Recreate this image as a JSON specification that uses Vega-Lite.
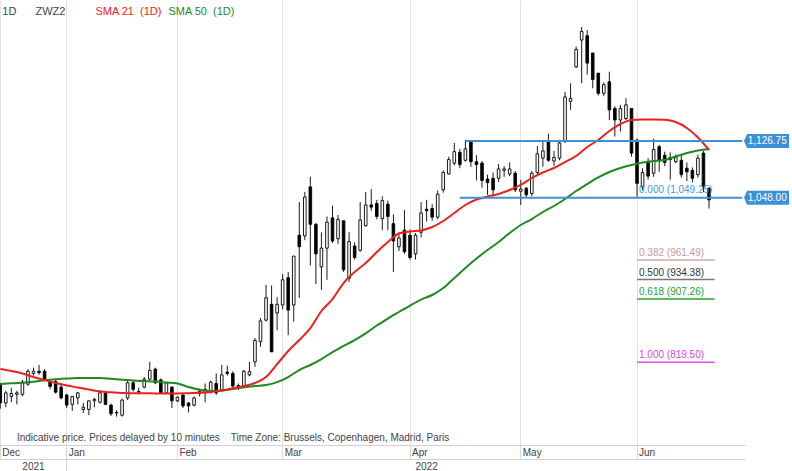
{
  "width": 745,
  "height": 445,
  "autosize": {"type": "none"},
  "padding": {"left": 0, "top": 0, "right": 47, "bottom": 26},
  "background": "#ffffff",
  "config": {"view": {"stroke": null}, "font": "Liberation Sans"},
  "datasets": {
    "ohlc": [
      {"date":"2021-12-15","o":788,"h":791,"l":755,"c":763,"sma21":810.1,"sma50":789.3},
      {"date":"2021-12-16","o":763,"h":780,"l":757,"c":777},
      {"date":"2021-12-17","o":772,"h":784,"l":764,"c":776,"sma21":807.3,"sma50":790.2},
      {"date":"2021-12-20","o":775,"h":780,"l":761,"c":777},
      {"date":"2021-12-21","o":775,"h":795,"l":772,"c":792,"sma21":803.8,"sma50":791.2},
      {"date":"2021-12-22","o":789,"h":810,"l":787,"c":807},
      {"date":"2021-12-23","o":804,"h":812,"l":801,"c":807,"sma21":799,"sma50":792.6},
      {"date":"2021-12-27","o":807,"h":816,"l":802,"c":805},
      {"date":"2021-12-28","o":807,"h":810,"l":793,"c":795,"sma21":794.8,"sma50":794.4},
      {"date":"2021-12-29","o":792,"h":795,"l":782,"c":786},
      {"date":"2021-12-30","o":793,"h":795,"l":776,"c":778,"sma21":790.7,"sma50":795.8},
      {"date":"2021-12-31","o":785,"h":788,"l":768,"c":770},
      {"date":"2022-01-03","o":774,"h":776,"l":756,"c":760,"sma21":787.2,"sma50":796.9},
      {"date":"2022-01-04","o":761,"h":773,"l":752,"c":772},
      {"date":"2022-01-05","o":770,"h":778,"l":761,"c":777,"sma21":784.4,"sma50":797.6},
      {"date":"2022-01-06","o":754,"h":763,"l":749,"c":757},
      {"date":"2022-01-07","o":754,"h":766,"l":746,"c":766,"sma21":781.6,"sma50":797.6},
      {"date":"2022-01-10","o":766,"h":770,"l":757,"c":768},
      {"date":"2022-01-11","o":764,"h":781,"l":762,"c":777,"sma21":778.9,"sma50":797.6},
      {"date":"2022-01-12","o":777,"h":779,"l":760,"c":761},
      {"date":"2022-01-13","o":760,"h":762,"l":745,"c":748,"sma21":777.7,"sma50":796.5},
      {"date":"2022-01-14","o":750,"h":753,"l":744,"c":749},
      {"date":"2022-01-18","o":746,"h":769,"l":744,"c":767,"sma21":776.8,"sma50":795.1},
      {"date":"2022-01-19","o":770,"h":795,"l":767,"c":791},
      {"date":"2022-01-20","o":791,"h":794,"l":779,"c":782,"sma21":776.5,"sma50":794.1},
      {"date":"2022-01-21","o":779,"h":784,"l":775,"c":778},
      {"date":"2022-01-24","o":785,"h":799,"l":783,"c":796,"sma21":776.4,"sma50":793.4},
      {"date":"2022-01-25","o":796,"h":820,"l":794,"c":808},
      {"date":"2022-01-26","o":810,"h":812,"l":789,"c":791,"sma21":776.2,"sma50":792.7},
      {"date":"2022-01-27","o":795,"h":797,"l":776,"c":777},
      {"date":"2022-01-28","o":777,"h":792,"l":776,"c":791,"sma21":776.1,"sma50":791.4},
      {"date":"2022-01-31","o":785,"h":786,"l":756,"c":766},
      {"date":"2022-02-01","o":766,"h":772,"l":764,"c":771,"sma21":776.2,"sma50":790},
      {"date":"2022-02-02","o":774,"h":775,"l":756,"c":759},
      {"date":"2022-02-03","o":763,"h":764,"l":750,"c":759,"sma21":776.6,"sma50":785.1},
      {"date":"2022-02-04","o":760,"h":772,"l":758,"c":770},
      {"date":"2022-02-07","o":776,"h":783,"l":772,"c":779,"sma21":777,"sma50":781.4},
      {"date":"2022-02-08","o":777,"h":790,"l":764,"c":782},
      {"date":"2022-02-09","o":778,"h":794,"l":776,"c":792,"sma21":778.3,"sma50":779.6},
      {"date":"2022-02-10","o":790,"h":804,"l":774,"c":777},
      {"date":"2022-02-11","o":781,"h":816,"l":779,"c":802,"sma21":780.2,"sma50":780.2},
      {"date":"2022-02-14","o":806,"h":815,"l":801,"c":804},
      {"date":"2022-02-15","o":804,"h":807,"l":784,"c":786.5,"sma21":783.3,"sma50":782.3},
      {"date":"2022-02-16","o":787,"h":790,"l":781,"c":785},
      {"date":"2022-02-17","o":786.5,"h":809,"l":784,"c":807,"sma21":786.5,"sma50":784.7},
      {"date":"2022-02-18","o":802,"h":820,"l":800,"c":806.5},
      {"date":"2022-02-22","o":820,"h":853,"l":813,"c":850,"sma21":790.7,"sma50":786.5},
      {"date":"2022-02-23","o":848,"h":881,"l":841,"c":877},
      {"date":"2022-02-24","o":878,"h":927,"l":876,"c":909,"sma21":799,"sma50":787.9},
      {"date":"2022-02-25","o":900,"h":926,"l":834,"c":834},
      {"date":"2022-02-28","o":888,"h":910,"l":864,"c":900,"sma21":817,"sma50":792},
      {"date":"2022-03-01","o":899,"h":942,"l":893,"c":934},
      {"date":"2022-03-02","o":937,"h":945,"l":857,"c":892,"sma21":835.1,"sma50":799},
      {"date":"2022-03-03","o":899,"h":967,"l":876,"c":967},
      {"date":"2022-03-04","o":996,"h":1042,"l":909,"c":980,"sma21":850.4,"sma50":808.7},
      {"date":"2022-03-07","o":995,"h":1056,"l":989,"c":1049},
      {"date":"2022-03-08","o":1063,"h":1077,"l":954,"c":1011,"sma21":867,"sma50":815.7},
      {"date":"2022-03-09","o":1011,"h":1013,"l":928,"c":970},
      {"date":"2022-03-10","o":952,"h":1000,"l":920,"c":978,"sma21":890.7,"sma50":824},
      {"date":"2022-03-11","o":978,"h":1022,"l":934,"c":1014},
      {"date":"2022-03-14","o":1020,"h":1037,"l":985,"c":988,"sma21":907.3,"sma50":833.7},
      {"date":"2022-03-15","o":991,"h":1024,"l":984,"c":1018},
      {"date":"2022-03-16","o":1016,"h":1016,"l":945,"c":948,"sma21":929.5,"sma50":842.1},
      {"date":"2022-03-17","o":936,"h":1000,"l":931,"c":987},
      {"date":"2022-03-18","o":981,"h":986,"l":962,"c":965,"sma21":944.8,"sma50":850.4},
      {"date":"2022-03-21","o":975,"h":1042,"l":973,"c":1017},
      {"date":"2022-03-22","o":1009,"h":1056,"l":1008,"c":1038,"sma21":957.3,"sma50":859.7},
      {"date":"2022-03-23","o":1038,"h":1060,"l":1030,"c":1035},
      {"date":"2022-03-24","o":1040,"h":1045,"l":1018,"c":1022,"sma21":972.6,"sma50":870.5},
      {"date":"2022-03-25","o":1019,"h":1050,"l":1003,"c":1044},
      {"date":"2022-03-28","o":1039,"h":1044,"l":1003,"c":1022,"sma21":986.5,"sma50":880.2},
      {"date":"2022-03-29","o":1012,"h":1025,"l":945,"c":988},
      {"date":"2022-03-30","o":980,"h":1000,"l":974,"c":992,"sma21":998.3,"sma50":889.3},
      {"date":"2022-03-31","o":1003,"h":1031,"l":970,"c":973},
      {"date":"2022-04-01","o":996,"h":1004,"l":962,"c":965,"sma21":1001.1,"sma50":898.3},
      {"date":"2022-04-04","o":970,"h":999,"l":962,"c":996},
      {"date":"2022-04-05","o":1000,"h":1042,"l":993,"c":1027,"sma21":1002.5,"sma50":906.6},
      {"date":"2022-04-06","o":1032,"h":1045,"l":1015,"c":1030},
      {"date":"2022-04-07","o":1033,"h":1039,"l":1016,"c":1021,"sma21":1007.3,"sma50":912.9},
      {"date":"2022-04-08","o":1021,"h":1058,"l":1018,"c":1053},
      {"date":"2022-04-11","o":1059,"h":1086,"l":1055,"c":1083,"sma21":1015.7,"sma50":922.6},
      {"date":"2022-04-12","o":1081,"h":1105,"l":1080,"c":1101},
      {"date":"2022-04-13","o":1096,"h":1124,"l":1093,"c":1112,"sma21":1026.8,"sma50":936.5},
      {"date":"2022-04-14","o":1111,"h":1116,"l":1089,"c":1094},
      {"date":"2022-04-18","o":1100,"h":1128.75,"l":1098,"c":1116,"sma21":1037.9,"sma50":950.4},
      {"date":"2022-04-19","o":1126,"h":1128,"l":1091,"c":1098},
      {"date":"2022-04-20","o":1098,"h":1107,"l":1072,"c":1094,"sma21":1045.5,"sma50":963.6},
      {"date":"2022-04-21","o":1096,"h":1099,"l":1062,"c":1072},
      {"date":"2022-04-22","o":1074,"h":1080,"l":1052,"c":1069,"sma21":1049.7,"sma50":975.4},
      {"date":"2022-04-25","o":1075,"h":1083,"l":1050,"c":1059},
      {"date":"2022-04-26","o":1075,"h":1095,"l":1070,"c":1088,"sma21":1053.2,"sma50":986.5},
      {"date":"2022-04-27","o":1086,"h":1092,"l":1077,"c":1088},
      {"date":"2022-04-28","o":1081,"h":1097,"l":1078,"c":1088,"sma21":1058.7,"sma50":999},
      {"date":"2022-04-29","o":1082,"h":1085,"l":1056,"c":1059},
      {"date":"2022-05-02","o":1057,"h":1073,"l":1038,"c":1060,"sma21":1065.7,"sma50":1010.1},
      {"date":"2022-05-03","o":1061,"h":1063,"l":1048,"c":1052},
      {"date":"2022-05-04","o":1054,"h":1085,"l":1050,"c":1082,"sma21":1075.4,"sma50":1018.4},
      {"date":"2022-05-05","o":1083,"h":1120,"l":1081,"c":1109},
      {"date":"2022-05-06","o":1103,"h":1126,"l":1091,"c":1113,"sma21":1083,"sma50":1028.2},
      {"date":"2022-05-09","o":1126,"h":1137,"l":1098,"c":1100},
      {"date":"2022-05-10","o":1099,"h":1113,"l":1092,"c":1104,"sma21":1089.3,"sma50":1036.5},
      {"date":"2022-05-11","o":1103,"h":1127,"l":1100,"c":1124},
      {"date":"2022-05-12","o":1126,"h":1195,"l":1124,"c":1188,"sma21":1097.6,"sma50":1046.2},
      {"date":"2022-05-13","o":1182,"h":1207,"l":1170,"c":1186},
      {"date":"2022-05-16","o":1230,"h":1258,"l":1228,"c":1254,"sma21":1105.9,"sma50":1057.3},
      {"date":"2022-05-17","o":1267,"h":1285,"l":1207,"c":1279},
      {"date":"2022-05-18","o":1273,"h":1281,"l":1219,"c":1235,"sma21":1118.4,"sma50":1067},
      {"date":"2022-05-19","o":1249,"h":1249,"l":1200,"c":1212},
      {"date":"2022-05-20","o":1221,"h":1221,"l":1190,"c":1193,"sma21":1128.2,"sma50":1076.1},
      {"date":"2022-05-23","o":1193,"h":1208,"l":1189,"c":1205},
      {"date":"2022-05-24","o":1209,"h":1223,"l":1156,"c":1170,"sma21":1140.7,"sma50":1083.7},
      {"date":"2022-05-25","o":1172,"h":1175,"l":1133,"c":1156},
      {"date":"2022-05-26","o":1156,"h":1177,"l":1140,"c":1172,"sma21":1150.4,"sma50":1089.3},
      {"date":"2022-05-27","o":1158,"h":1186,"l":1156,"c":1177},
      {"date":"2022-05-31","o":1172,"h":1172,"l":1105,"c":1110,"sma21":1155.9,"sma50":1093.4},
      {"date":"2022-06-01","o":1128,"h":1130,"l":1049.25,"c":1068},
      {"date":"2022-06-02","o":1063,"h":1089,"l":1058,"c":1083,"sma21":1156.6,"sma50":1096.9},
      {"date":"2022-06-03","o":1098,"h":1103,"l":1073,"c":1078},
      {"date":"2022-06-06","o":1082,"h":1130,"l":1077,"c":1115,"sma21":1156.6,"sma50":1099},
      {"date":"2022-06-07","o":1119,"h":1121,"l":1084,"c":1100},
      {"date":"2022-06-08","o":1107,"h":1112,"l":1092,"c":1097,"sma21":1156.2,"sma50":1100.4},
      {"date":"2022-06-09","o":1104,"h":1111,"l":1073,"c":1101},
      {"date":"2022-06-10","o":1098,"h":1108,"l":1096,"c":1104,"sma21":1153.2,"sma50":1105.2},
      {"date":"2022-06-13","o":1100,"h":1108,"l":1076,"c":1080},
      {"date":"2022-06-14","o":1089,"h":1097,"l":1071,"c":1084,"sma21":1144.8,"sma50":1110.1},
      {"date":"2022-06-15","o":1086,"h":1090,"l":1069,"c":1075},
      {"date":"2022-06-16","o":1080,"h":1108,"l":1076,"c":1103,"sma21":1131.6,"sma50":1113.6},
      {"date":"2022-06-17","o":1110,"h":1113,"l":1056,"c":1063},
      {"date":"2022-06-21","o":1061,"h":1063,"l":1033,"c":1045,"sma21":1114.3,"sma50":1115.7}
    ],
    "levels": [
      {"date":"2022-04-18","date2":"2022-06-29","v":1126.75,"tag":"1,126.75"},
      {"date":"2022-04-14","date2":"2022-06-29","v":1048,"tag":"1,048.00"}
    ],
    "fib": [
      {"date":"2022-06-01","date2":"2022-06-22","lvl":"0.000","v":1049.25,"lab":"0.000 (1,049.25)"},
      {"date":"2022-06-01","date2":"2022-06-22","lvl":"0.382","v":961.49,"lab":"0.382 (961.49)"},
      {"date":"2022-06-01","date2":"2022-06-22","lvl":"0.500","v":934.38,"lab":"0.500 (934.38)"},
      {"date":"2022-06-01","date2":"2022-06-22","lvl":"0.618","v":907.26,"lab":"0.618 (907.26)"},
      {"date":"2022-06-01","date2":"2022-06-22","lvl":"1.000","v":819.5,"lab":"1.000 (819.50)"}
    ]
  },
  "resolve": {"axis": {"x": "independent"}},
  "layer": [
    {
      "data": {"name": "ohlc"},
      "mark": {"type": "rule", "color": "#1c1c1c", "strokeWidth": 1},
      "encoding": {
        "x": {
          "field": "date", "type": "ordinal",
          "scale": {
            "type": "band", "paddingInner": 0, "paddingOuter": 0, "range": [-2.5, 745],
            "domain": ["2021-12-15","2021-12-16","2021-12-17","2021-12-20","2021-12-21","2021-12-22","2021-12-23","2021-12-27","2021-12-28","2021-12-29","2021-12-30","2021-12-31",
              "2022-01-03","2022-01-04","2022-01-05","2022-01-06","2022-01-07","2022-01-10","2022-01-11","2022-01-12","2022-01-13","2022-01-14","2022-01-18","2022-01-19","2022-01-20","2022-01-21","2022-01-24","2022-01-25","2022-01-26","2022-01-27","2022-01-28","2022-01-31",
              "2022-02-01","2022-02-02","2022-02-03","2022-02-04","2022-02-07","2022-02-08","2022-02-09","2022-02-10","2022-02-11","2022-02-14","2022-02-15","2022-02-16","2022-02-17","2022-02-18","2022-02-22","2022-02-23","2022-02-24","2022-02-25","2022-02-28",
              "2022-03-01","2022-03-02","2022-03-03","2022-03-04","2022-03-07","2022-03-08","2022-03-09","2022-03-10","2022-03-11","2022-03-14","2022-03-15","2022-03-16","2022-03-17","2022-03-18","2022-03-21","2022-03-22","2022-03-23","2022-03-24","2022-03-25","2022-03-28","2022-03-29","2022-03-30","2022-03-31",
              "2022-04-01","2022-04-04","2022-04-05","2022-04-06","2022-04-07","2022-04-08","2022-04-11","2022-04-12","2022-04-13","2022-04-14","2022-04-18","2022-04-19","2022-04-20","2022-04-21","2022-04-22","2022-04-25","2022-04-26","2022-04-27","2022-04-28","2022-04-29",
              "2022-05-02","2022-05-03","2022-05-04","2022-05-05","2022-05-06","2022-05-09","2022-05-10","2022-05-11","2022-05-12","2022-05-13","2022-05-16","2022-05-17","2022-05-18","2022-05-19","2022-05-20","2022-05-23","2022-05-24","2022-05-25","2022-05-26","2022-05-27","2022-05-31",
              "2022-06-01","2022-06-02","2022-06-03","2022-06-06","2022-06-07","2022-06-08","2022-06-09","2022-06-10","2022-06-13","2022-06-14","2022-06-15","2022-06-16","2022-06-17","2022-06-21",
              "2022-06-22","2022-06-23","2022-06-24","2022-06-27","2022-06-28","2022-06-29"]
          },
          "axis": {
            "orient": "bottom", "offset": 14, "title": null,
            "values": ["2021-12-23", "2022-01-03", "2022-04-06"],
            "labelExpr": "datum.value == '2021-12-23' ? '2021' : (datum.value == '2022-04-06' ? '2022' : '')",
            "bandPosition": 0.5, "grid": false, "ticks": true, "tickSize": 12, "tickColor": "#d8d8d8",
            "tickOpacity": {"condition": {"test": "datum.value == '2022-01-03'", "value": 1}, "value": 0},
            "domain": true, "domainColor": "#d0d0d0", "labelAngle": 0,
            "labelAlign": "center", "labelBaseline": "top", "labelPadding": -10,
            "labelFontSize": 10, "labelColor": "#444444", "labelFont": "Liberation Sans", "labelOverlap": false
          }
        },
        "y": {
          "field": "l", "type": "quantitative",
          "scale": {"domain": [704.6, 1322.6], "nice": false, "zero": false},
          "axis": {
            "orient": "right", "title": null, "values": [800, 900, 1000, 1100, 1200, 1300],
            "format": ",.2f", "ticks": false, "domain": true, "domainColor": "#cccccc",
            "labelColor": "#555555", "labelFontSize": 10, "labelFont": "Liberation Sans", "labelPadding": 3,
            "grid": true, "gridColor": "#e3e3e3"
          }
        },
        "y2": {"field": "h"}
      }
    },
    {
      "data": {"name": "ohlc"},
      "mark": {"type": "bar", "width": 2.6, "stroke": "#000000", "strokeWidth": 0.9},
      "encoding": {
        "x": {
          "field": "date", "type": "ordinal",
          "axis": {
            "orient": "bottom", "title": null,
            "values": ["2021-12-15", "2022-01-03", "2022-02-01", "2022-03-01", "2022-04-01", "2022-05-02", "2022-06-01"],
            "labelExpr": "['Jan','Feb','Mar','Apr','May','Jun','Jul','Aug','Sep','Oct','Nov','Dec'][toNumber(substring(datum.value, 5, 7)) - 1]",
            "bandPosition": 0.5, "grid": true, "gridColor": "#e3e3e3",
            "ticks": true, "tickSize": 14, "tickColor": "#d8d8d8",
            "domain": true, "domainColor": "#d0d0d0", "labelAngle": 0,
            "labelAlign": "left", "labelBaseline": "top", "labelPadding": -12, "labelOffset": 2,
            "labelFontSize": 10, "labelColor": "#444444", "labelFont": "Liberation Sans",
            "labelFlush": false, "labelOverlap": false
          }
        },
        "y": {"field": "o", "type": "quantitative", "axis": null},
        "y2": {"field": "c"},
        "fill": {"condition": {"test": "datum.c >= datum.o", "value": "#ffffff"}, "value": "#000000"}
      }
    },
    {
      "data": {"name": "ohlc"},
      "transform": [{"filter": "isValid(datum.sma50)"}],
      "mark": {"type": "line", "color": "#1f8a1f", "strokeWidth": 2, "interpolate": "monotone"},
      "encoding": {
        "x": {"field": "date", "type": "ordinal", "axis": null},
        "y": {"field": "sma50", "type": "quantitative", "axis": null}
      }
    },
    {
      "data": {"name": "ohlc"},
      "transform": [{"filter": "isValid(datum.sma21)"}],
      "mark": {"type": "line", "color": "#e8231f", "strokeWidth": 2, "interpolate": "monotone"},
      "encoding": {
        "x": {"field": "date", "type": "ordinal", "axis": null},
        "y": {"field": "sma21", "type": "quantitative", "axis": null}
      }
    },
    {
      "data": {"name": "levels"},
      "mark": {"type": "rule", "color": "#3d8fd6", "strokeWidth": 2},
      "encoding": {
        "x": {"field": "date", "type": "ordinal", "axis": null},
        "x2": {"field": "date2"},
        "y": {"field": "v", "type": "quantitative", "axis": null}
      }
    },
    {
      "data": {"name": "fib"},
      "transform": [{"filter": "datum.lvl != '0.000'"}],
      "mark": {"type": "rule", "strokeWidth": 1.5},
      "encoding": {
        "x": {"field": "date", "type": "ordinal", "axis": null},
        "x2": {"field": "date2"},
        "y": {"field": "v", "type": "quantitative", "axis": null},
        "stroke": {
          "field": "lvl", "type": "nominal", "legend": null,
          "scale": {"domain": ["0.382", "0.500", "0.618", "1.000"], "range": ["#c9a8a8", "#777777", "#2ca02c", "#e04ee0"]}
        }
      }
    },
    {
      "data": {"name": "fib"},
      "mark": {"type": "text", "align": "left", "baseline": "bottom", "dx": 2, "dy": -2, "fontSize": 10, "font": "Liberation Sans"},
      "encoding": {
        "x": {"field": "date", "type": "ordinal", "axis": null},
        "y": {"field": "v", "type": "quantitative", "axis": null},
        "text": {"field": "lab"},
        "fill": {
          "field": "lvl", "type": "nominal", "legend": null,
          "scale": {"domain": ["0.000", "0.382", "0.500", "0.618", "1.000"], "range": ["#4a98d6", "#c49a9a", "#333333", "#2e9e2e", "#d94ad9"]}
        }
      }
    },
    {
      "data": {"name": "levels"},
      "mark": {"type": "point", "filled": true, "fill": "#3d8fd6", "opacity": 1, "strokeWidth": 0, "size": 2025, "xOffset": 24.3,
        "shape": "M -1 0 L -0.867 -0.31 L 1 -0.31 L 1 0.31 L -0.867 0.31 Z"},
      "encoding": {
        "x": {"field": "date2", "type": "ordinal", "axis": null},
        "y": {"field": "v", "type": "quantitative", "axis": null}
      }
    },
    {
      "data": {"name": "levels"},
      "mark": {"type": "text", "align": "center", "baseline": "middle", "dx": 25, "fontSize": 10, "fill": "#ffffff", "font": "Liberation Sans"},
      "encoding": {
        "x": {"field": "date2", "type": "ordinal", "axis": null},
        "y": {"field": "v", "type": "quantitative", "axis": null},
        "text": {"field": "tag"}
      }
    },
    {
      "data": {"values": [{"date": "2021-12-15", "t": "1D"}, {"date": "2021-12-23", "t": "ZWZ2"}]},
      "mark": {"type": "text", "align": "left", "baseline": "middle", "dx": 2, "fontSize": 11, "fill": "#444444", "font": "Liberation Sans"},
      "encoding": {
        "x": {"field": "date", "type": "ordinal", "axis": null},
        "y": {"datum": 1306, "type": "quantitative", "axis": null},
        "text": {"field": "t"}
      }
    },
    {
      "data": {"values": [{"t": "SMA 21\u00a0 (1D)"}]},
      "mark": {"type": "text", "align": "left", "baseline": "middle", "dx": 1, "fontSize": 11, "fill": "#e8231f", "font": "Liberation Sans"},
      "encoding": {
        "x": {"datum": "2022-01-10", "type": "ordinal", "axis": null},
        "y": {"datum": 1306, "type": "quantitative", "axis": null},
        "text": {"field": "t"}
      }
    },
    {
      "data": {"values": [{"t": "SMA 50\u00a0 (1D)"}]},
      "mark": {"type": "text", "align": "left", "baseline": "middle", "dx": 2, "fontSize": 11, "fill": "#1f8a1f", "font": "Liberation Sans"},
      "encoding": {
        "x": {"datum": "2022-01-28", "type": "ordinal", "axis": null},
        "y": {"datum": 1306, "type": "quantitative", "axis": null},
        "text": {"field": "t"}
      }
    },
    {
      "data": {"values": [{"t": "Indicative price. Prices delayed by 10 minutes\u00a0\u00a0\u00a0 Time Zone: Brussels, Copenhagen, Madrid, Paris"}]},
      "mark": {"type": "text", "align": "left", "baseline": "middle", "fontSize": 10, "fill": "#444444", "font": "Liberation Sans"},
      "encoding": {
        "x": {"datum": "2021-12-20", "type": "ordinal", "axis": null},
        "y": {"datum": 714, "type": "quantitative", "axis": null},
        "text": {"field": "t"}
      }
    }
  ]
}
